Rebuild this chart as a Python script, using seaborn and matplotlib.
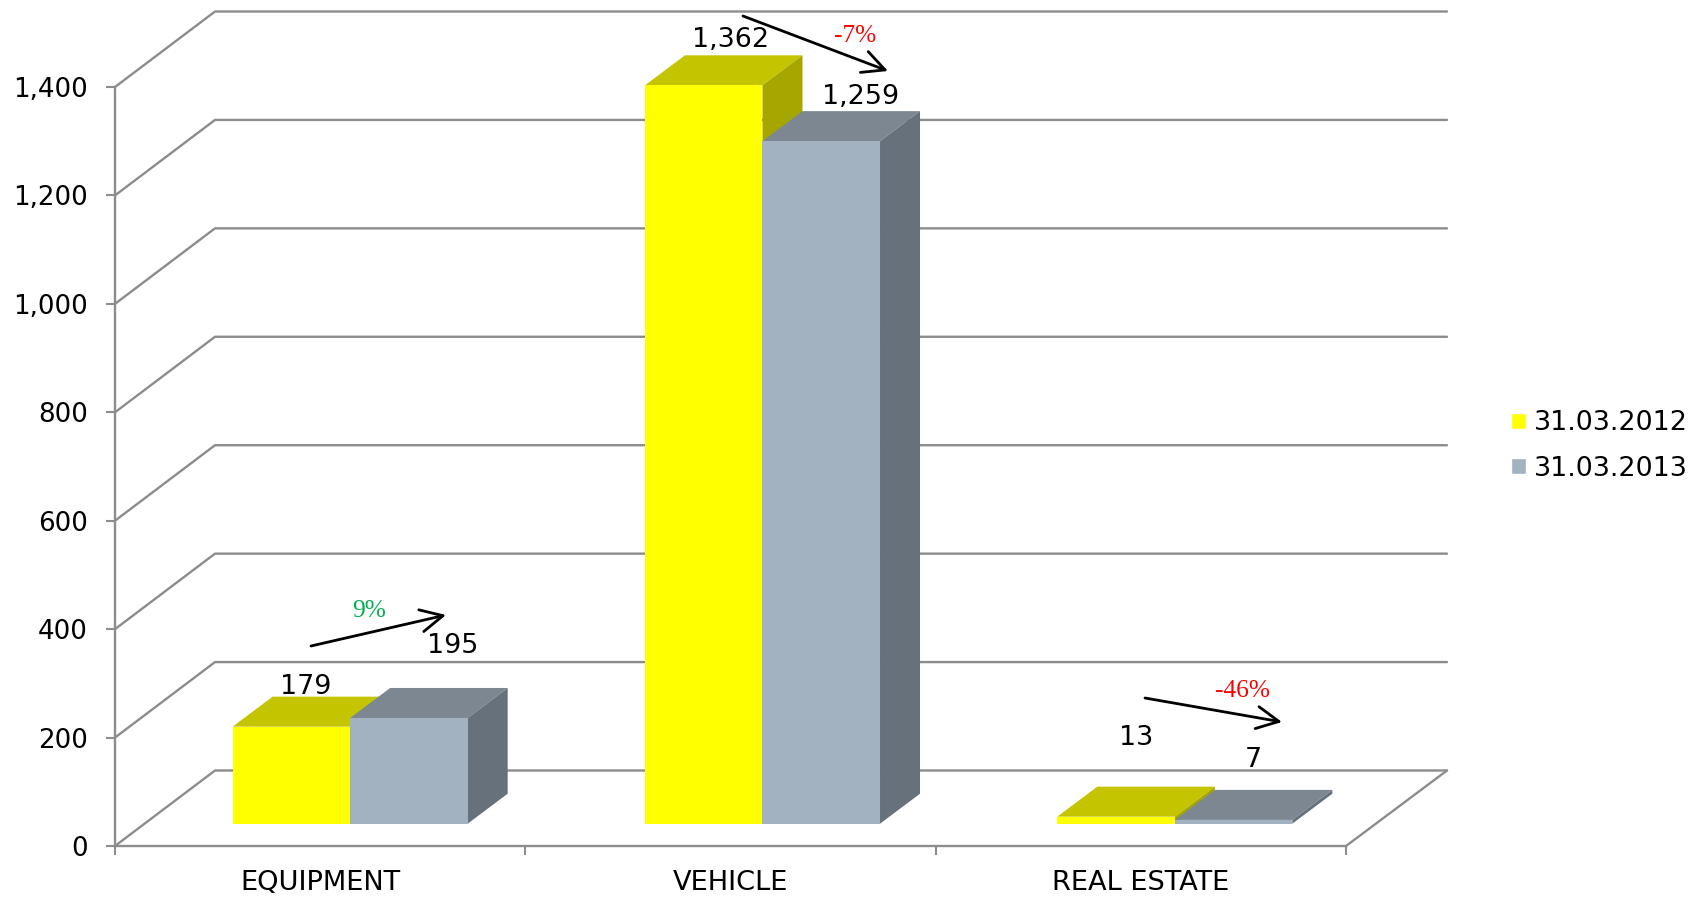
import matplotlib
matplotlib.use("Agg")
import matplotlib.pyplot as plt
import pandas as pd
import seaborn as sns
from matplotlib.lines import Line2D
from matplotlib.patches import Polygon
from matplotlib.transforms import IdentityTransform

categories = ["EQUIPMENT", "VEHICLE", "REAL ESTATE"]
series_names = ["31.03.2012", "31.03.2013"]
values_2012 = [179, 1362, 13]
values_2013 = [195, 1259, 7]
y_ticks = [0, 200, 400, 600, 800, 1000, 1200, 1400]

# label offsets from the top of each bar, in pixels
label_offsets_2012 = [(14, 33), (27, 38), (20, 72)]
label_offsets_2013 = [(44, 65), (39, 37), (20, 53)]

# hand drawn arrows on the slide: start, end, text, text position, colour
changes = [
    ((311, 646), (446, 615), "9%", (369, 617), "#00B050"),
    ((743, 16), (888, 71), "-7%", (855, 42), "#FF0000"),
    ((1145, 698), (1282, 722), "-46%", (1242, 697), "#FF0000"),
]

W, H = 1703, 897
LINE = "#8C8C8C"
DEPTH_X, DEPTH_Y = 100, 75.5  # back wall offset
BAR_DX, BAR_DY = 40, 30  # bar depth
front_colors = {"31.03.2012": "#FFFF00", "31.03.2013": "#A2B2C1"}
top_colors = ["#C4C400", "#7D8792"]
side_colors = ["#A6A600", "#67717C"]

sns.set_style("white")
plt.rcParams["font.family"] = ["DejaVu Sans"]
plt.rcParams["text.color"] = "black"
plt.rcParams["xtick.labelcolor"] = "black"
plt.rcParams["ytick.labelcolor"] = "black"


def px_axes(fig, left, right, top, bottom):
    return fig.add_axes([left / W, 1 - bottom / H, (right - left) / W, (bottom - top) / H])


fig = plt.figure(figsize=(W / 100, H / 100), dpi=100)

# front axis with the walls behind it
ax = px_axes(fig, 115, 1346, 87, 846)
ax.patch.set_alpha(0)
ax.set_xlim(-0.5, 2.5)
ax.set_ylim(0, 1400)
ax.set_yticks(y_ticks)
ax.set_yticklabels([f"{v:,}" for v in y_ticks])
ax.set_xticks([-0.5, 0.5, 1.5, 2.5])
ax.set_xticklabels([])
ax.set_xticks([0, 1, 2], labels=categories, minor=True)
sns.despine(ax=ax)
for side in ["left", "bottom"]:
    ax.spines[side].set_color(LINE)
    ax.spines[side].set_linewidth(1.7)
ax.tick_params(axis="y", which="major", left=True, length=6.5, width=1.5, color=LINE, labelsize=18.8, pad=13)
ax.tick_params(axis="x", which="major", bottom=True, length=6.5, width=1.5, color=LINE)
ax.tick_params(axis="x", which="minor", bottom=False, length=0, labelsize=19.6, pad=17)

for v in y_ticks:
    x0, y0 = ax.transData.transform((-0.5, v))
    xs = [x0, x0 + DEPTH_X, x0 + DEPTH_X + 1232]
    ys = [y0, y0 + DEPTH_Y, y0 + DEPTH_Y]
    ax.add_line(Line2D(xs, ys, color=LINE, lw=1.7, transform=IdentityTransform(), clip_on=False, zorder=1))
x0, y0 = ax.transData.transform((2.5, 0))
ax.add_line(Line2D([x0, x0 + DEPTH_X + 1], [y0, y0 + DEPTH_Y], color=LINE, lw=1.7,
                   transform=IdentityTransform(), clip_on=False, zorder=1))

# bars sit on the floor, a little behind the front axis
bar_ax = px_axes(fig, 144, 1381, 64.7, 823.7)
bar_ax.patch.set_alpha(0)
df = pd.DataFrame({
    "category": categories * 2,
    "value": values_2012 + values_2013,
    "series": [series_names[0]] * 3 + [series_names[1]] * 3,
})
sns.barplot(data=df, x="category", y="value", hue="series", hue_order=series_names,
            palette=front_colors, saturation=1, width=0.57, gap=0, ax=bar_ax)
bar_ax.set_xlim(-0.5, 2.5)
bar_ax.set_ylim(0, 1400)

all_offsets = [label_offsets_2012, label_offsets_2013]
for s, container in enumerate(bar_ax.containers):
    for i, bar in enumerate(container):
        bar.set_zorder(3 + 2 * s)
        bar.set_linewidth(0)
        (x1, y1), (x2, y2) = bar_ax.transData.transform(
            [(bar.get_x(), 0), (bar.get_x() + bar.get_width(), bar.get_height())])
        top = [(x1, y2), (x2, y2), (x2 + BAR_DX, y2 + BAR_DY), (x1 + BAR_DX, y2 + BAR_DY)]
        side = [(x2, y1), (x2 + BAR_DX, y1 + BAR_DY), (x2 + BAR_DX, y2 + BAR_DY), (x2, y2)]
        for pts, col in [(top, top_colors[s]), (side, side_colors[s])]:
            bar_ax.add_patch(Polygon(pts, closed=True, facecolor=col, edgecolor="none",
                                     transform=IdentityTransform(), clip_on=False, zorder=2 + 2 * s))
        bar_ax.annotate(f"{int(bar.get_height()):,}",
                        xy=(bar.get_x() + bar.get_width() / 2, bar.get_height()),
                        xytext=all_offsets[s][i], textcoords="offset pixels",
                        ha="center", va="baseline", fontsize=19.4, color="black",
                        annotation_clip=False, zorder=10)

sns.move_legend(bar_ax, "center left", bbox_to_anchor=(1487 / W, 1 - 446 / H),
                bbox_transform=fig.transFigure, title=None, frameon=False, fontsize=19.4,
                handlelength=0.56, handleheight=0.56, handletextpad=0.28, labelspacing=0.72,
                labelcolor="black")
bar_ax.axis("off")

for start, end, text, text_pos, color in changes:
    bar_ax.annotate("", xy=(end[0], H - end[1]), xytext=(start[0], H - start[1]),
                    xycoords="figure pixels", textcoords="figure pixels",
                    arrowprops=dict(arrowstyle="->,head_length=0.8,head_width=0.4", color="black",
                                    lw=2.0, shrinkA=0, shrinkB=0, mutation_scale=20),
                    annotation_clip=False, zorder=11)
    bar_ax.annotate(text, xy=(text_pos[0], H - text_pos[1]), xycoords="figure pixels",
                    ha="center", va="baseline", fontsize=18.3, color=color,
                    family="Liberation Serif", annotation_clip=False, zorder=11)

fig.savefig("out.png", dpi=100)
